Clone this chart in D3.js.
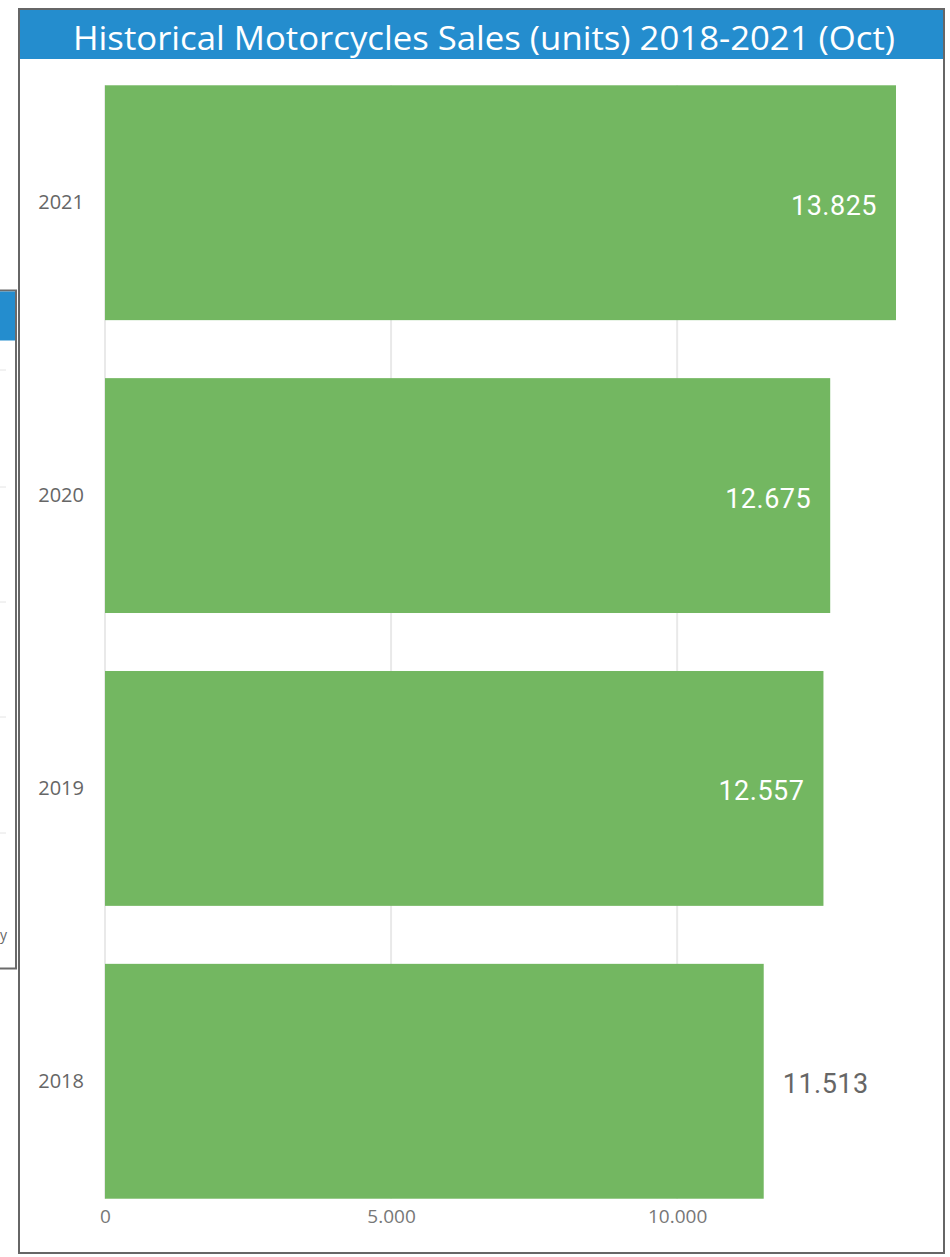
<!DOCTYPE html>
<html>
<head>
<meta charset="utf-8">
<script src="https://cdn.jsdelivr.net/npm/d3@7"></script>
<style>
  body { margin:0; background:#fff; }
  svg { display:block; }
  .title { font-family:"Open Sans","Noto Sans",sans-serif; fill:#fff; }
  .tick text { font-family:"Open Sans","Noto Sans",sans-serif; }
  .val { font-family:Roboto,"Noto Sans",sans-serif; letter-spacing:0.5px; }
</style>
</head>
<body>
<svg></svg>
<script>
// data
var years = ["2021","2020","2019","2018"]
var sales = [13825,12675,12557,11513]
var xTicks = [0,5000,10000]
var titleText = "Historical Motorcycles Sales (units) 2018-2021 (Oct)"

var screen = {width:950,height:1257}
var frame = {left:19,top:9,right:944,bottom:1253}
var plot = {left:105,right:896,top:56,bottom:1228}

var svg = d3.select("svg")
    .attr("width",screen.width)
    .attr("height",screen.height)

var fmt = d3.formatLocale({decimal:",",thousands:".",grouping:[3],currency:["",""]}).format(",")

//neighbour panel sticking in on the left
var side = svg.append("g")
side.append("rect")
    .attr("x",-5).attr("y",290.5)
    .attr("width",21).attr("height",678)
    .attr("fill","#fff").attr("stroke","#6b6b6b").attr("stroke-width",2)
side.append("rect")
    .attr("x",0).attr("y",291.5)
    .attr("width",15).attr("height",49)
    .attr("fill","#248dce")
side.selectAll("line")
    .data([370,487,602,717,833])
    .enter()
    .append("line")
    .attr("x1",0).attr("x2",6)
    .attr("y1",function(d){return d}).attr("y2",function(d){return d})
    .attr("stroke","#e4e4e4")
side.append("text")
    .text("y")
    .attr("x",0).attr("y",940)
    .attr("font-family","Open Sans")
    .attr("font-size",14)
    .attr("fill","#666")

//frame + title bar
svg.append("rect")
    .attr("x",frame.left).attr("y",frame.top)
    .attr("width",frame.right-frame.left)
    .attr("height",frame.bottom-frame.top)
    .attr("fill","#fff")
    .attr("stroke","#666").attr("stroke-width",2)
svg.append("rect")
    .attr("x",frame.left+1).attr("y",frame.top+1)
    .attr("width",frame.right-frame.left-2)
    .attr("height",49)
    .attr("fill","#248dce")
svg.append("text")
    .classed("title",true)
    .text(titleText)
    .attr("x",484).attr("y",50)
    .attr("text-anchor","middle")
    .attr("font-size",33)
    .attr("textLength",822)
    .attr("lengthAdjust","spacingAndGlyphs")

var xScale = d3.scaleLinear()
    .domain([0,13825])
    .range([plot.left,plot.right])
var yScale = d3.scaleBand()
    .domain(years)
    .range([plot.top,plot.bottom])
    .paddingInner(0.198)
    .paddingOuter(0.1)

//grid
svg.append("g")
    .selectAll("line")
    .data(xTicks)
    .enter()
    .append("line")
    .attr("x1",function(d){return xScale(d)})
    .attr("x2",function(d){return xScale(d)})
    .attr("y1",yScale("2021")).attr("y2",yScale("2018")+yScale.bandwidth())
    .attr("stroke","#e9e9e9").attr("stroke-width",2)

//axes
var xAxis = d3.axisBottom(xScale)
    .tickValues(xTicks)
    .tickFormat(fmt)
    .tickSize(0)
    .tickPadding(11)
var gx = svg.append("g")
    .attr("transform","translate(0,"+(yScale("2018")+yScale.bandwidth())+")")
    .call(xAxis)
gx.select(".domain").remove()
gx.selectAll("text").attr("font-size",19).attr("fill","#777")

var yAxis = d3.axisLeft(yScale).tickSize(0).tickPadding(21)
var gy = svg.append("g")
    .attr("transform","translate("+plot.left+",0)")
    .call(yAxis)
gy.select(".domain").remove()
gy.selectAll("text").attr("font-size",20).attr("fill","#666")

//bars
var rows = years.map(function(y,i){return {year:y,value:sales[i]}})
svg.append("g")
    .selectAll("rect")
    .data(rows)
    .enter()
    .append("rect")
    .attr("x",xScale(0))
    .attr("y",function(d){return yScale(d.year)})
    .attr("width",function(d){return xScale(d.value)-xScale(0)})
    .attr("height",yScale.bandwidth())
    .attr("fill","#73b761")

//value labels, inside when they fit
svg.append("g")
    .selectAll("text")
    .data(rows)
    .enter()
    .append("text")
    .classed("val",true)
    .text(function(d){return fmt(d.value)})
    .attr("font-size",27)
    .attr("y",function(d){return yScale(d.year)+yScale.bandwidth()/2+12})
    .attr("x",function(d){
        return d.value>12000 ? xScale(d.value)-19 : xScale(d.value)+19
    })
    .attr("text-anchor",function(d){return d.value>12000 ? "end" : "start"})
    .attr("fill",function(d){return d.value>12000 ? "#fff" : "#666"})
</script>
</body>
</html>
